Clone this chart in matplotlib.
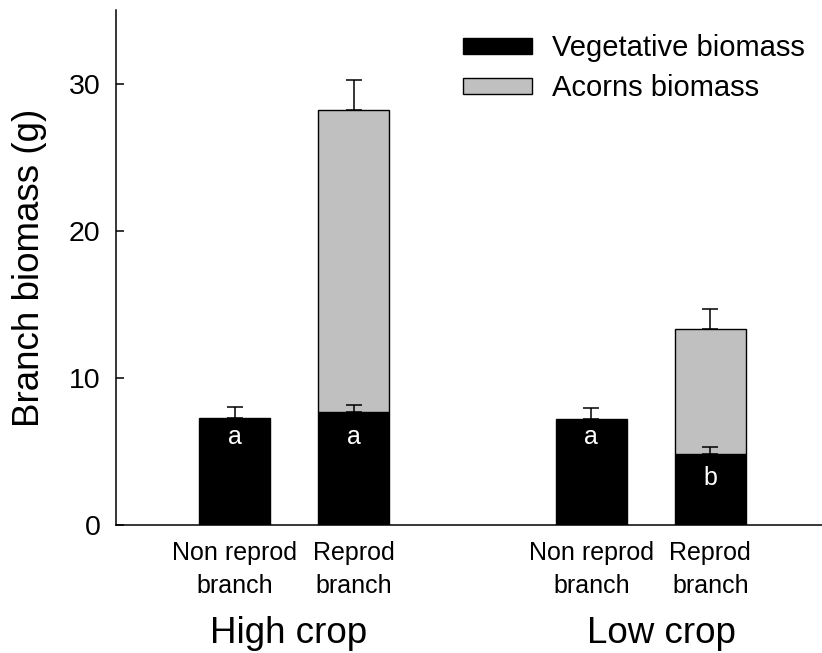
import matplotlib.pyplot as plt

plt.rcParams['font.family'] = ['Liberation Sans', 'DejaVu Sans']

# bar positions and labels
x_pos = [1, 2, 4, 5]
bar_labels = ['Non reprod\nbranch', 'Reprod\nbranch', 'Non reprod\nbranch', 'Reprod\nbranch']
groups = ['High crop', 'Low crop']
group_x = [1.45, 4.59]

# vegetative biomass (g) and its standard error
veg = [7.28, 7.69, 7.24, 4.88]
veg_se = [0.79, 0.52, 0.74, 0.45]

# acorn biomass only for reproductive branches
acorn_x = [2, 5]
acorn_base = [7.69, 4.88]
acorns = [20.49, 8.45]
acorn_se = [2.06, 1.38]

letters = ['a', 'a', 'a', 'b']
letter_y = [6.0, 6.0, 6.0, 3.2]

fig = plt.figure(figsize=(8.22, 6.53), dpi=100)
ax = fig.add_axes([0.1411, 0.1953, 0.8589, 0.7894])

width = 0.6
ax.bar(x_pos, veg, width, color='black', edgecolor='black', linewidth=1,
       label='Vegetative biomass', zorder=2)
ax.bar(acorn_x, acorns, width, bottom=acorn_base, color='#c0c0c0',
       edgecolor='black', linewidth=1, label='Acorns biomass', zorder=2)
ax.errorbar(x_pos, veg, yerr=[[0] * len(veg), veg_se], fmt='none',
            ecolor='black', elinewidth=1.1, capsize=5.7, capthick=1.1, zorder=3)
tops = [b + a for b, a in zip(acorn_base, acorns)]
ax.errorbar(acorn_x, tops, yerr=[[0] * len(tops), acorn_se], fmt='none',
            ecolor='black', elinewidth=1.1, capsize=5.7, capthick=1.1, zorder=3)

for xp, lt, ly in zip(x_pos, letters, letter_y):
    ax.text(xp, ly, lt, color='white', ha='center', va='center', fontsize=18, zorder=4)

ax.set_xlim(0, 5.94)
ax.set_ylim(0, 35)
ax.set_yticks([0, 10, 20, 30])
ax.tick_params(axis='y', direction='in', length=5.8, width=1.1, labelsize=20.5, pad=11)
ax.set_xticks(x_pos)
ax.set_xticklabels(bar_labels, fontsize=18, linespacing=1.5)
ax.tick_params(axis='x', length=0, pad=11)

ax.spines['top'].set_visible(False)
ax.spines['right'].set_visible(False)
ax.spines['left'].set_linewidth(1.1)
ax.spines['bottom'].set_linewidth(1.1)

ax.set_ylabel('Branch biomass (g)', fontsize=26.5, labelpad=16)

for gx, g in zip(group_x, groups):
    ax.text(gx, -0.228, g, transform=ax.get_xaxis_transform(), ha='center',
            va='baseline', fontsize=26.5)

leg = ax.legend(loc='upper left', bbox_to_anchor=(463 / 822, 1 - 34 / 653),
                bbox_transform=fig.transFigure, frameon=False, fontsize=21,
                handlelength=2.36, handleheight=0.48, handletextpad=0.68,
                labelspacing=0.42, borderpad=0, borderaxespad=0)

fig.savefig('out.png', dpi=100)
